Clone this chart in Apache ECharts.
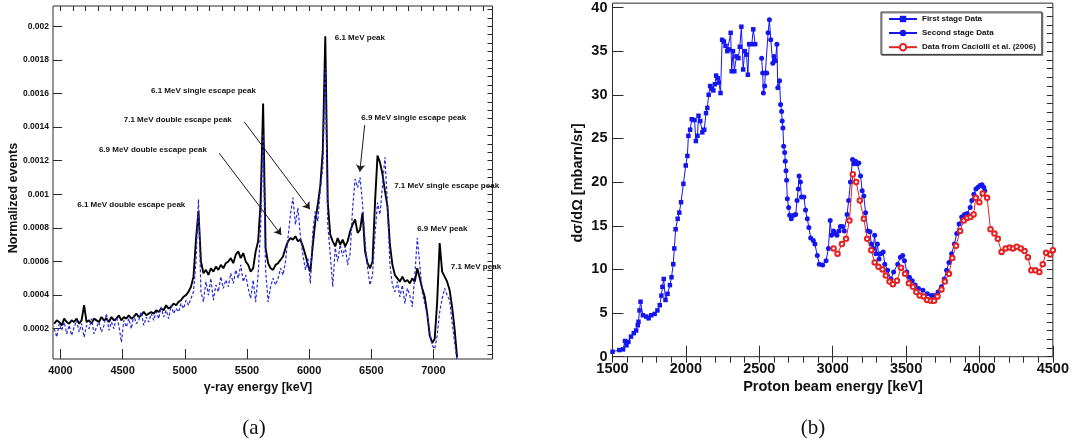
<!DOCTYPE html>
<html><head><meta charset="utf-8">
<script src="https://cdn.jsdelivr.net/npm/echarts@6/dist/echarts.min.js"></script>
<style>html,body{margin:0;padding:0;background:#fff}#c{width:1072px;height:444px}</style>
</head><body><div id="c"></div>
<script>
// ================= Panel (a): gamma spectra =================
// histogram bins (keV): centre of first bin and bin width
const binStartA = 3950, binWidthA = 20;
// Normalized events, in units of 1e-4, one value per bin (3950 ... 7190 keV)
const blackSpectrum = [
  2.3, 2.5, 2.4, 2.2, 2.6, 2.4, 2.3, 2.5, 2.4, 2.6,
  2.3, 2.5, 3.4, 2.4, 2.5, 2.3, 2.6, 2.5, 2.4, 2.7,
  2.5, 2.6, 2.4, 2.7, 2.5, 2.6, 2.8, 2.5, 2.7, 2.6,
  2.8, 2.6, 2.7, 2.9, 2.7, 2.8, 3.0, 2.8, 2.9, 3.0,
  2.9, 3.1, 3.0, 3.2, 3.1, 3.4, 3.2, 3.3, 3.5, 3.4,
  3.6, 3.7, 3.9, 4.0, 4.2, 4.5, 5.1, 7.3, 9.0, 6.0,
  5.3, 5.5, 5.2, 5.6, 5.4, 5.7, 5.5, 5.8, 5.6, 5.9,
  6.0, 6.2, 5.9, 6.4, 6.6, 6.2, 6.5, 6.0, 5.8, 5.4,
  5.6, 6.6, 7.2, 9.5, 15.4, 6.8, 5.9, 5.6, 5.5, 5.8,
  5.9, 6.1, 6.3, 6.8, 7.2, 7.4, 7.3, 7.5, 7.2, 7.3,
  6.9, 6.4, 5.8, 5.4, 7.0, 8.4, 9.4, 10.5, 12.6, 19.4,
  9.5, 7.6, 7.2, 6.9, 7.4, 7.0, 7.3, 6.9, 7.2, 7.8,
  8.2, 8.5, 7.7, 7.9, 8.9, 6.6, 5.9, 5.6, 6.0, 9.5,
  12.3, 11.9, 11.2, 10.2, 9.3, 7.0, 5.8, 5.2, 5.0, 4.8,
  5.1, 4.8, 4.9, 4.7, 5.0, 4.8, 5.6, 5.0, 4.4, 3.9,
  2.9, 1.6, 1.15, 1.4, 3.6, 7.1, 5.4, 5.1, 4.8, 4.3,
  3.3, 2.0, 0.3
];
const blueSpectrum = [
  2.0, 1.5, 2.3, 1.9, 2.4, 1.7, 2.2, 1.6, 2.1, 2.5,
  1.8, 2.3, 1.5, 2.2, 2.0, 2.6, 1.7, 2.1, 2.4, 1.8,
  2.2, 2.9, 1.9, 2.4, 2.0, 2.7, 2.2, 1.2, 2.5, 2.1,
  2.6, 2.0, 2.8, 2.3, 2.5, 3.0, 2.2, 2.7, 2.4, 2.9,
  2.5, 3.0, 2.6, 3.3, 2.7, 3.1, 2.6, 3.4, 2.9, 3.2,
  3.0, 3.5, 3.2, 3.7, 3.4, 3.8, 4.2, 6.0, 9.7, 4.2,
  3.6, 4.8, 4.0, 5.0, 3.7, 4.6, 4.2, 5.1, 4.4, 4.9,
  4.5, 5.3, 4.7, 5.5, 5.0, 5.8, 4.8, 5.2, 4.4, 3.8,
  4.9, 3.6, 5.2, 8.0, 13.6, 5.5, 3.6, 4.5, 5.0, 4.6,
  5.0, 5.6, 5.2, 6.0, 7.4, 8.8, 9.8, 8.2, 9.2, 7.5,
  6.4, 5.5, 6.2, 4.7, 7.8, 9.0, 8.4, 10.3, 11.6, 17.5,
  8.2, 6.4, 4.5, 6.8, 6.0, 7.0, 6.3, 6.9, 5.8, 6.5,
  9.2, 10.9, 10.4, 11.0, 9.4, 7.2, 5.6, 4.6, 5.2, 7.6,
  9.5, 8.8, 10.5, 12.2, 9.4, 5.8, 4.6, 4.2, 4.8, 3.9,
  4.6, 3.5, 4.4, 4.0, 3.3, 5.2, 7.4, 5.8, 4.2, 3.5,
  2.8, 1.8, 1.0, 0.8, 1.6, 3.0, 3.8, 4.4, 4.0, 3.7,
  2.4, 1.2, 0.1
];
const xTicksA = [4000, 4500, 5000, 5500, 6000, 6500, 7000];
const yTicksA = [2, 4, 6, 8, 10, 12, 14, 16, 18, 20];           // units of 1e-4
const yTickLabelsA = ['0.0002','0.0004','0.0006','0.0008','0.001','0.0012','0.0014','0.0016','0.0018','0.002'];
// annotation texts (anchored at left/middle, data coordinates: keV, 1e-4)
const annotationsA = [
  {text: '6.1 MeV peak', x: 6206, y: 19.29},
  {text: '6.1 MeV single escape peak', x: 4728, y: 16.18},
  {text: '7.1 MeV double escape peak', x: 4509, y: 14.43},
  {text: '6.9 MeV double escape peak', x: 4309, y: 12.67},
  {text: '6.9 MeV single escape peak', x: 6419, y: 14.53},
  {text: '7.1 MeV single escape peak', x: 6684, y: 10.49},
  {text: '6.1 MeV double escape peak', x: 4135, y: 9.38},
  {text: '6.9 MeV peak', x: 6869, y: 7.94},
  {text: '7.1 MeV peak', x: 7140, y: 5.70}
];
const arrowsA = [
  [[5478, 14.31], [6006, 9.11]],
  [[5277, 12.44], [5776, 7.58]],
  [[6447, 14.12], [6408, 11.34]]
];

// ================= Panel (b): cross sections =================
const firstStage = [
  [1500,0.57],[1546,0.76],[1572,0.84],[1585,1.8],[1595,1.3],[1608,1.7],[1626,2.3],[1645,2.7],[1661,3.0],
  [1672,3.6],[1677,4.0],[1684,5.3],[1691,6.3],[1707,4.75],[1730,4.6],[1746,4.4],[1764,4.75],[1787,4.9],
  [1806,5.3],[1822,5.9],[1833,7.0],[1840,8.0],[1849,8.9],[1861,6.5],[1875,7.2],[1891,8.2],[1902,9.1],
  [1914,10.6],[1921,12.4],[1930,14.6],[1944,15.8],[1955,16.5],[1967,17.7],[1983,19.8],[1999,21.9],
  [2010,23.0],[2017,25.3],[2029,26.0],[2040,27.2],[2059,27.1],[2068,24.7],[2079,25.3],[2086,27.6],
  [2098,27.0],[2112,25.7],[2125,26.0],[2137,27.9],[2146,28.5],[2155,30.0],[2165,31.0],[2178,30.7],
  [2187,30.5],[2197,31.2],[2206,32.2],[2217,31.9],[2224,31.4],[2236,30.2],[2247,36.3],[2259,36.1],
  [2270,35.6],[2282,35.0],[2293,35.2],[2305,37.1],[2312,32.7],[2321,35.0],[2330,32.7],[2344,34.4],
  [2358,34.2],[2367,35.5],[2378,37.8],[2390,32.9],[2401,35.0],[2413,34.6],[2422,32.3],[2431,35.8],
  [2449,35.8],[2459,37.5],[2472,35.8]
];
const secondStage = [
  [2516,34.2],[2523,32.5],[2528,30.2],[2537,31.0],[2541,32.5],[2551,32.5],[2560,37.1],[2569,38.6],
  [2578,36.3],[2592,33.6],[2601,34.4],[2610,33.9],[2620,35.8],[2626,30.8],[2638,31.6],[2645,28.9],
  [2652,28.1],[2656,27.0],[2661,26.2],[2666,24.1],[2673,23.4],[2677,22.4],[2682,21.3],[2686,20.2],
  [2691,18.1],[2700,17.1],[2707,16.2],[2718,15.8],[2734,16.2],[2748,16.3],[2757,17.9],[2766,19.2],
  [2771,20.7],[2780,20.0],[2787,18.3],[2804,18.3],[2815,16.8],[2827,15.8],[2838,14.8],[2850,13.6],
  [2868,13.3],[2879,12.9],[2895,11.6],[2909,10.6],[2932,10.5],[2955,11.0],[2971,12.4],[2983,15.6],
  [2992,13.9],[3006,14.4],[3017,14.1],[3029,13.9],[3043,14.4],[3052,14.9],[3066,14.9],[3079,14.4],
  [3098,16.3],[3109,17.9],[3121,20.0],[3135,22.6],[3144,22.1],[3155,22.4],[3167,22.1],[3178,22.2],
  [3190,20.7],[3201,19.0],[3212,18.4],[3224,16.5],[3240,14.4],[3254,14.3],[3263,12.9],[3275,12.4],
  [3286,13.9],[3295,11.8],[3305,12.9],[3316,11.2],[3327,11.8],[3344,12.0],[3355,10.6],[3374,9.9],
  [3397,8.9],[3415,9.7],[3443,10.6],[3461,11.4],[3477,11.6],[3489,11.0],[3505,9.7],[3523,9.1],
  [3542,8.7],[3562,8.2],[3585,7.8],[3615,7.6],[3645,7.2],[3673,7.0],[3695,7.0],[3718,7.4],
  [3741,8.0],[3760,8.9],[3776,9.9],[3792,10.8],[3810,11.8],[3829,12.9],[3845,14.1],[3861,15.2],
  [3879,16.0],[3898,16.3],[3916,16.4],[3937,17.1],[3948,17.9],[3962,18.6],[3976,19.2],[3990,19.4],
  [4003,19.6],[4017,19.7],[4029,19.4],[4036,19.0]
];
const caciolli = [
  [3006,12.4],[3033,11.8],[3063,12.9],[3091,13.5],[3114,15.6],[3137,20.9],[3160,20.0],[3185,17.9],
  [3212,15.8],[3235,13.5],[3263,12.2],[3286,10.8],[3312,10.3],[3339,10.0],[3362,9.3],[3387,8.6],
  [3410,8.3],[3438,8.7],[3466,10.2],[3493,9.5],[3519,8.4],[3547,8.0],[3570,7.4],[3593,7.0],
  [3620,6.9],[3643,6.5],[3669,6.4],[3691,6.4],[3714,6.9],[3741,7.7],[3764,8.6],[3792,9.5],
  [3815,11.3],[3840,12.7],[3868,14.4],[3893,15.6],[3916,15.9],[3939,16.0],[3960,16.3],[3975,18.2],
  [3999,17.7],[4022,18.7],[4052,18.2],[4075,14.6],[4102,14.1],[4125,13.5],[4150,12.0],[4178,12.4],
  [4206,12.5],[4229,12.4],[4254,12.6],[4282,12.4],[4307,12.1],[4330,11.4],[4353,9.9],[4381,9.9],
  [4408,9.7],[4431,10.6],[4454,11.9],[4482,11.7],[4500,12.2]
];
const xTicksB = [1500, 2000, 2500, 3000, 3500, 4000, 4500];
const yTicksB = [0, 5, 10, 15, 20, 25, 30, 35, 40];
const seriesNamesB = ['First stage Data', 'Second stage Data', 'Data from Caciolli et al. (2006)'];

// ---------- helpers ----------
function minorTicks(lo, hi, step) {
  const out = [];
  for (let v = lo; v <= hi + 1e-9; v += step) out.push(Math.round(v * 1000) / 1000);
  return out;
}
const FONT = '"Liberation Sans", Arial, Helvetica, sans-serif';
const FRAME = '#2b2b2b';
const histA = arr => arr.map((v, i) => [binStartA + i * binWidthA, v]);
const plain = v => String(v);

function majorAxis(gridIndex, min, max, ticks, len, labelOpt) {
  return {
    type: 'value', gridIndex, min, max,
    axisLine: {show: false},
    splitLine: {show: false},
    axisTick: {show: true, inside: true, length: len, customValues: ticks, lineStyle: {color: FRAME, width: 1}},
    axisLabel: Object.assign({show: true, customValues: ticks, fontFamily: FONT, fontWeight: 'bold', color: '#111', formatter: plain}, labelOpt)
  };
}
function minorAxis(gridIndex, min, max, ticks, len) {
  return {
    type: 'value', gridIndex, min, max,
    axisLine: {show: false}, splitLine: {show: false},
    axisTick: {show: true, inside: true, length: len, customValues: ticks, lineStyle: {color: FRAME, width: 1}},
    axisLabel: {show: false}
  };
}

const xMinA = 3940, xMaxA = 7475, yMinA = 0.2, yMaxA = 21.2;
const xMinB = 1500, xMaxB = 4500, yMinB = 0, yMaxB = 40.5;

const option = {
  animation: false,
  backgroundColor: '#ffffff',
  grid: [
    {left: 53, top: 6, width: 439.5, height: 353, show: true, borderColor: FRAME, borderWidth: 1, backgroundColor: 'transparent'},
    {left: 612.5, top: 2, width: 443, height: 354.7, show: true, borderColor: FRAME, borderWidth: 1, backgroundColor: 'transparent'}
  ],
  xAxis: [
    majorAxis(0, xMinA, xMaxA, xTicksA, 10, {fontSize: 11, margin: 6}),
    minorAxis(0, xMinA, xMaxA, minorTicks(4000, 7400, 100), 5),
    majorAxis(1, xMinB, xMaxB, xTicksB, 11, {fontSize: 14.5, margin: 5}),
    minorAxis(1, xMinB, xMaxB, minorTicks(1500, 4500, 100), 6)
  ],
  yAxis: [
    majorAxis(0, yMinA, yMaxA, yTicksA, 9, {fontSize: 8.5, margin: 4,
      formatter: v => { const i = yTicksA.indexOf(v); return i >= 0 ? yTickLabelsA[i] : ''; }}),
    minorAxis(0, yMinA, yMaxA, minorTicks(0.5, 21, 0.5), 5),
    majorAxis(1, yMinB, yMaxB, yTicksB, 11, {fontSize: 14.5, margin: 5}),
    minorAxis(1, yMinB, yMaxB, minorTicks(0, 40, 1), 6)
  ],
  legend: {
    data: seriesNamesB,
    orient: 'vertical', left: 881, top: 12,
    itemWidth: 28, itemHeight: 8, itemGap: 6,
    padding: [3, 6, 3, 7],
    borderColor: '#333', borderWidth: 1, borderRadius: 0,
    backgroundColor: '#fff',
    shadowColor: 'rgba(90,90,90,0.7)', shadowBlur: 0, shadowOffsetX: 1, shadowOffsetY: 1,
    textStyle: {fontFamily: FONT, fontSize: 8, fontWeight: 'bold', color: '#111'},
    selectedMode: false
  },
  series: [
    {
      name: 'gamma spectrum (solid)', type: 'line', xAxisIndex: 0, yAxisIndex: 0,
      data: histA(blackSpectrum), symbol: 'none', clip: true,
      lineStyle: {color: '#000', width: 1.9}, z: 2,
      markLine: {
        silent: true, symbol: ['none', 'arrow'], symbolSize: 7, animation: false,
        lineStyle: {color: '#1a1a1a', width: 1, type: 'solid'}, label: {show: false},
        data: arrowsA.map(a => [{coord: a[0]}, {coord: a[1]}])
      }
    },
    {
      name: 'gamma spectrum (dashed)', type: 'line', xAxisIndex: 0, yAxisIndex: 0,
      data: histA(blueSpectrum), symbol: 'none', clip: true,
      lineStyle: {color: '#2828d8', width: 1.2, type: [3, 2]}, z: 3
    },
    {
      name: seriesNamesB[0], type: 'line', xAxisIndex: 2, yAxisIndex: 2,
      data: firstStage, symbol: 'rect', symbolSize: 4.5, showAllSymbol: true,
      itemStyle: {color: '#1515ee'}, lineStyle: {color: '#1515ee', width: 1}, z: 3
    },
    {
      name: seriesNamesB[1], type: 'line', xAxisIndex: 2, yAxisIndex: 2,
      data: secondStage, symbol: 'circle', symbolSize: 5, showAllSymbol: true,
      itemStyle: {color: '#1515ee'}, lineStyle: {color: '#1515ee', width: 1}, z: 3
    },
    {
      name: seriesNamesB[2], type: 'line', xAxisIndex: 2, yAxisIndex: 2,
      data: caciolli, symbol: 'emptyCircle', symbolSize: 4.5, showAllSymbol: true,
      itemStyle: {color: '#e42222', borderWidth: 1}, lineStyle: {color: '#e42222', width: 1}, z: 4
    }
  ]
};

const chart = echarts.init(document.getElementById('c'), null, {renderer: 'canvas', width: 1072, height: 444});
chart.setOption(option);

// text annotations placed through the axes of panel (a)
const graphics = [];
annotationsA.forEach(a => {
  const p = chart.convertToPixel({xAxisIndex: 0, yAxisIndex: 0}, [a.x, a.y]);
  graphics.push({type: 'text', x: p[0], y: p[1], silent: true, z: 20,
    style: {text: a.text, fontFamily: FONT, fontSize: 8, fontWeight: 'bold', fill: '#111', align: 'left', verticalAlign: 'middle'}});
});
// axis titles and panel captions
const titles = [
  {text: 'γ-ray energy [keV]', x: 258, y: 388, size: 12.5, rot: 0},
  {text: 'Normalized events', x: 14, y: 198, size: 12.5, rot: Math.PI / 2},
  {text: 'Proton beam energy [keV]', x: 833, y: 387, size: 14.5, rot: 0},
  {text: 'dσ/dΩ [mbarn/sr]', x: 578, y: 183, size: 14.5, rot: Math.PI / 2}
];
titles.forEach(t => graphics.push({type: 'text', x: t.x, y: t.y, rotation: t.rot, silent: true,
  style: {text: t.text, fontFamily: FONT, fontSize: t.size, fontWeight: 'bold', fill: '#111', align: 'center', verticalAlign: 'middle'}}));
[['(a)', 254], ['(b)', 813]].forEach(c => graphics.push({type: 'text', x: c[1], y: 428, silent: true,
  style: {text: c[0], fontFamily: '"Liberation Serif", "DejaVu Serif", serif', fontSize: 21, fill: '#111', align: 'center', verticalAlign: 'middle'}}));
chart.setOption({graphic: graphics});
</script>
</body></html>
